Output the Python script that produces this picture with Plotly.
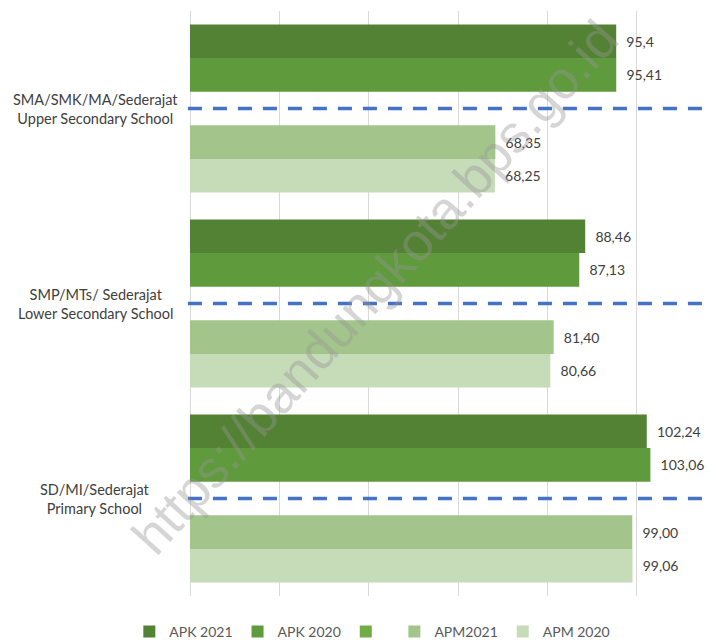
import plotly.graph_objects as go

categories = ["SMA/SMK/MA/Sederajat<br>Upper Secondary School",
              "SMP/MTs/ Sederajat<br>Lower Secondary School",
              "SD/MI/Sederajat<br>Primary School"]
cat_keys = ["SMA", "SMP", "SD"]

series_names = ["APK 2021", "APK 2020", "", "APM2021", "APM 2020"]
apk_2021 = [95.4, 88.46, 102.24]
apk_2020 = [95.41, 87.13, 103.06]
blank = [0, 0, 0]
apm_2021 = [68.35, 81.40, 99.00]
apm_2020 = [68.25, 80.66, 99.06]
label_apk_2021 = ["95,4", "88,46", "102,24"]
label_apk_2020 = ["95,41", "87,13", "103,06"]
label_apm_2021 = ["68,35", "81,40", "99,00"]
label_apm_2020 = ["68,25", "80,66", "99,06"]

colors = ["#548235", "#5f9a3c", "#70ad47", "#a3c58c", "#c6dbb8"]
values = [apk_2021, apk_2020, blank, apm_2021, apm_2020]
labels = [label_apk_2021, label_apk_2020, None, label_apm_2021, label_apm_2020]

FONT = "Lato, 'Open Sans', sans-serif"
fig = go.Figure()
for name, vals, lab, col in zip(series_names, values, labels, colors):
    fig.add_trace(go.Bar(
        y=cat_keys, x=vals, name=name if name else " ", orientation="h",
        marker=dict(color=col, line=dict(width=0)),
        text=[("  " + t) for t in lab] if lab else None,
        textposition="outside" if lab else None,
        textfont=dict(color="#404040", size=14, family=FONT),
        cliponaxis=False, hoverinfo="skip",
    ))

shapes = []
for k in cat_keys:
    shapes.append(dict(type="line", xref="paper", yref="y", x0=-0.004, x1=1.0,
                       y0=k, y1=k, line=dict(color="#4472c4", width=3.5, dash="14px,11px")))

annotations = []
for k, c in zip(cat_keys, categories):
    annotations.append(dict(xref="paper", yref="y", x=-0.184, y=k, text=c,
                            showarrow=False, xanchor="center", yanchor="middle",
                            align="center", font=dict(size=14.5, color="#404040", family=FONT)))
annotations.append(dict(xref="paper", yref="paper", x=0.357, y=0.528,
                        text="https://bandungkota.bps.go.id", showarrow=False,
                        textangle=-48, font=dict(size=53, color="rgba(150,150,150,0.40)",
                                                  family="Liberation Sans, Arial, sans-serif")))

fig.update_layout(
    width=716, height=640,
    margin=dict(l=190, r=10, t=11, b=44, autoexpand=False),
    paper_bgcolor="white", plot_bgcolor="white",
    barmode="group", bargap=0.138, bargroupgap=0,
    font=dict(family=FONT, color="#595959", size=14),
    xaxis=dict(range=[0, 115.5], dtick=20, tick0=0, showticklabels=False,
               showgrid=True, gridcolor="#d9d9d9", gridwidth=1,
               zeroline=True, zerolinecolor="#d9d9d9", zerolinewidth=1,
               showline=False, fixedrange=True),
    yaxis=dict(autorange="reversed", showticklabels=False, showgrid=False,
               showline=False, ticks="", fixedrange=True),
    showlegend=True,
    legend=dict(orientation="h", xref="container", yref="container",
                x=0.52, xanchor="center", y=0.0125, yanchor="middle",
                font=dict(size=14, color="#595959", family=FONT),
                traceorder="normal", itemwidth=30),
    shapes=shapes, annotations=annotations,
)

fig.write_html("out.html", config={"displayModeBar": False},
               post_script="document.body.style.margin='0';document.body.style.padding='0';")
